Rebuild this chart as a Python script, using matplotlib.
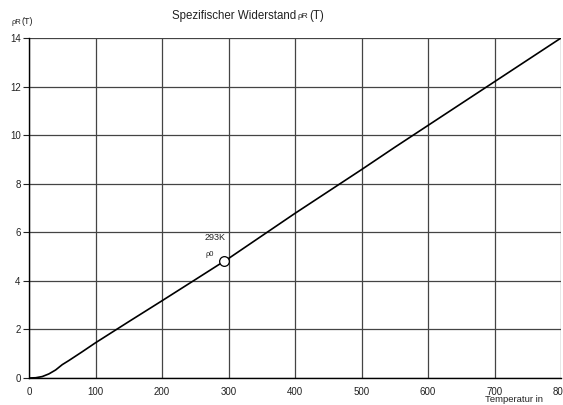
import matplotlib
matplotlib.use("Agg")
import matplotlib.pyplot as plt

# data
temperature = [0, 10, 20, 30, 40, 50, 60, 80, 100, 150, 200, 250, 293, 300,
               350, 400, 450, 500, 550, 600, 650, 700, 750, 800]
resistivity = [0, 0.01, 0.06, 0.17, 0.33, 0.55, 0.72, 1.08, 1.45, 2.32, 3.18,
               4.05, 4.80, 4.92, 5.85, 6.78, 7.68, 8.58, 9.50, 10.40, 11.30,
               12.20, 13.10, 14.00]
marker_T = [293]
marker_rho = [4.80]
x_ticks = [0, 100, 200, 300, 400, 500, 600, 700, 800]
y_ticks = [0, 2, 4, 6, 8, 10, 12, 14]

plt.rcParams['font.family'] = ['Liberation Sans', 'DejaVu Sans']

W, H = 563, 405
fig = plt.figure(figsize=(W / 100, H / 100), dpi=100)
L, R, T, B = 29, 561, 38, 378
ax = fig.add_axes([L / W, 1 - B / H, (R - L) / W, (B - T) / H])

ax.plot(temperature, resistivity, color='black', lw=1.2, zorder=3)
ax.plot(marker_T, marker_rho, 'o', ms=7, mfc='white', mec='black', mew=0.9, zorder=4)

ax.set_xlim(0, 800)
ax.set_ylim(0, 14)
ax.set_xticks(x_ticks)
ax.set_yticks(y_ticks)
ax.grid(True, color='#444444', lw=0.9)
ax.set_axisbelow(True)
for s in ['top', 'right']:
    ax.spines[s].set_visible(False)
ax.spines['left'].set_linewidth(1.0)
ax.spines['bottom'].set_linewidth(1.0)
ax.tick_params(axis='x', length=0, pad=6.5, labelsize=7, colors='#222222')
ax.tick_params(axis='y', length=4, width=0.8, pad=2, labelsize=7, colors='#222222')
ax.set_xticklabels([str(t) for t in x_ticks])
for lab in ax.get_xticklabels():
    lab.set_clip_on(False)


def ftext(x, y, s, size, ha='left', va='center'):
    fig.text(x / W, 1 - y / H, s, fontsize=size, ha=ha, va=va, color='#222222')


# title
ftext(172, 16, 'Spezifischer Widerstand', 8.3)
ftext(298, 17, 'ρR', 6)
ftext(309, 16, '(T)', 8.3)
# y label
ftext(11, 23, 'ρR', 5.5)
ftext(21, 22, '(T)', 6.5)
# x label
ftext(485, 400, 'Temperatur in', 6.8)
# marker annotation
ftext(205, 238, '293K', 6.5)
ftext(205, 254, 'ρ0', 5.5)

fig.savefig('out.png', dpi=100)
